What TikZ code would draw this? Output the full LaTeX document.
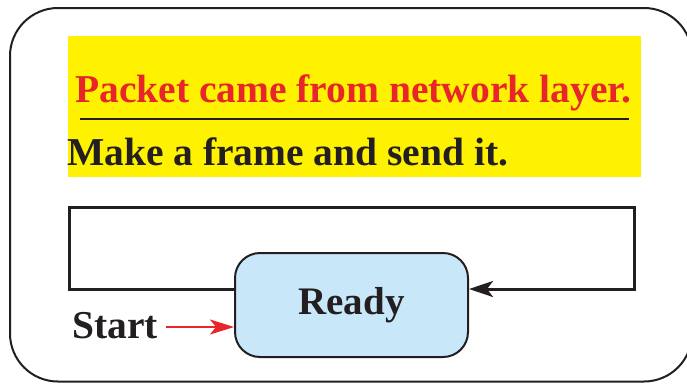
\documentclass[tikz,border=0pt]{standalone}
\usepackage{fontspec}
\setmainfont{Liberation Serif}
\usetikzlibrary{arrows.meta}
\definecolor{ylw}{HTML}{FFF200}
\definecolor{lblue}{HTML}{C8E8F9}
\definecolor{rd}{HTML}{E6262B}
\definecolor{blk}{HTML}{231F20}
\tikzset{
  lbl/.style={inner sep=0pt, anchor=base west, font=\fontsize{39.5}{41}\selectfont\bfseries},
  statebox/.style={draw=blk, line width=2pt, fill=lblue, rounded corners=25pt,
    minimum width=233pt, minimum height=104pt, inner sep=0pt,
    font=\fontsize{39}{41}\selectfont\bfseries, text=blk},
  loopline/.style={draw=blk, line width=3pt},
}
\begin{document}
\begin{tikzpicture}[x=1pt,y=-1pt]
\useasboundingbox (0,0) rectangle (687,384);
\clip (0,0) rectangle (687,384);
\fill[white] (0,0) rectangle (687,384);
% outer frame
\draw[blk, line width=2pt, rounded corners=48pt] (10,8) rectangle (692,381.5);
% yellow area
\fill[ylw] (68,36) rectangle (641,177);
\node[lbl, text=rd] (cond) at (75,102) {Packet came from network layer.};
\coordinate (u1) at (80,119);
\coordinate (u2) at (629,119);
\draw[blk, line width=1.6pt] (u1) -- (u2);
\node[lbl, text=blk] (act) at (67,165) {Make a frame and send it.};
% state
\node[statebox] (ready) at (351.5,305) {Ready};
% loop
\coordinate (c1) at (69,289);
\coordinate (c2) at (69,207);
\coordinate (c3) at (634,207);
\coordinate (c4) at (634,289);
\draw[loopline, line join=miter, -{Stealth[length=24pt,width=16pt,inset=6pt]}]
  (ready.west |- c1) -- (c1) -- (c2) -- (c3) -- (c4) -- (ready.east |- c4);
% start
\node[lbl, text=blk] (start) at (72,338) {Start};
\coordinate (s0) at (166,327);
\draw[rd, line width=2.4pt, -{Stealth[length=24pt,width=15pt,inset=6pt]}] (s0) -- (ready.west |- s0);
\end{tikzpicture}
\end{document}
